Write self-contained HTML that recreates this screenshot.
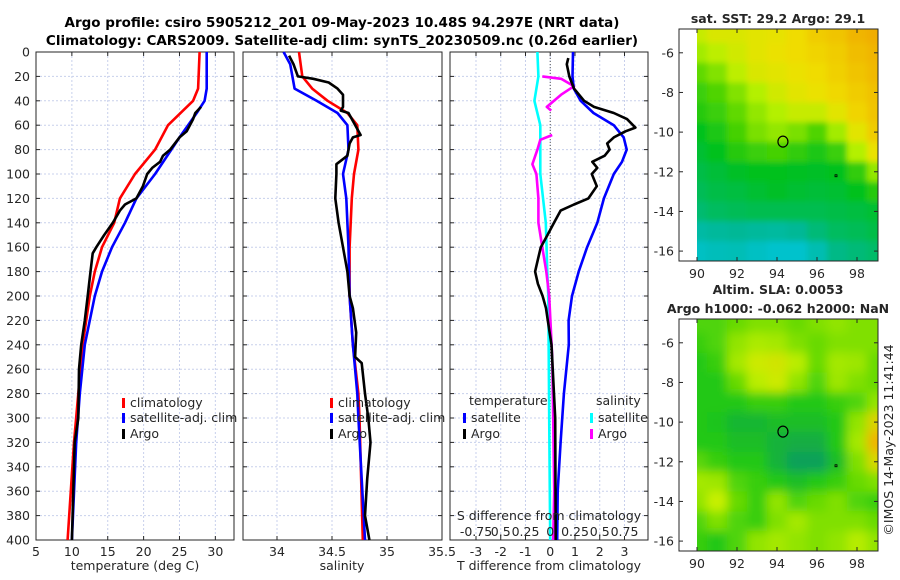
<!DOCTYPE html>
<html><head><meta charset="utf-8"><style>
body{margin:0;background:#fff}
svg{display:block;font-family:"DejaVu Sans","Liberation Sans",sans-serif}
</style></head><body>
<svg id="fig" width="900" height="580" viewBox="0 0 900 580">
<text x="342" y="27" font-size="13.5" font-weight="bold" text-anchor="middle">Argo profile: csiro 5905212_201 09-May-2023 10.48S 94.297E (NRT data)</text>
<text x="342" y="45" font-size="13.5" font-weight="bold" text-anchor="middle">Climatology: CARS2009. Satellite-adj clim: synTS_20230509.nc (0.26d earlier)</text>
<g id="layer"></g>
</svg>
<script>
// ---------- data ----------
const depthTicks=[0,20,40,60,80,100,120,140,160,180,200,220,240,260,280,300,320,340,360,380,400];
const tempTicks=[5,10,15,20,25,30];
const salTicks=[34,34.5,35,35.5];
const salTickLabels=["34","34.5","35","35.5"];
const diffTicks=[-3,-2,-1,0,1,2,3];
const sdiffTickLabels=["-0.75","0.5","0.25","0","0.25","0.5","0.75"];

const tClimD=[0,30,40,60,80,100,120,140,160,180,200,240,280,320,400];
const tClimV=[27.8,27.6,26.9,23.4,21.6,18.8,16.7,15.9,14.2,13.2,12.5,11.5,10.9,10.3,9.4];
const tSatD=[0,30,40,50,70,100,120,140,160,180,200,240,280,320,400];
const tSatV=[28.8,28.8,28.5,27.4,25.0,21.6,19.0,17.4,15.6,14.2,13.2,11.8,11.1,10.6,10.0];
const tArgoD=[45,50,55,65,70,80,85,90,95,100,110,120,125,130,140,150,160,165,180,190,200,220,240,260,300,320,360,400];
const tArgoV=[28.0,27.2,26.9,26.0,25.0,23.7,22.7,22.3,21.2,20.5,19.9,19.0,17.4,16.7,15.7,14.5,13.4,12.9,12.6,12.4,12.2,11.8,11.3,11.0,10.9,10.4,10.2,10.0];

const sClimD=[0,20,30,40,50,60,80,100,120,160,200,240,280,300,400];
const sClimV=[34.2,34.23,34.32,34.46,34.64,34.73,34.74,34.70,34.68,34.66,34.66,34.69,34.74,34.75,34.78];
const sSatD=[0,10,20,30,40,50,60,80,100,120,160,200,240,280,300,400];
const sSatV=[34.06,34.12,34.14,34.16,34.36,34.55,34.64,34.65,34.60,34.63,34.65,34.66,34.69,34.73,34.74,34.8];
const sArgoD=[3,10,20,22,25,30,35,45,48,50,68,70,75,85,92,100,120,140,160,180,200,210,230,250,255,280,300,320,350,380,400];
const sArgoV=[34.11,34.15,34.19,34.33,34.47,34.55,34.60,34.60,34.58,34.65,34.76,34.69,34.66,34.64,34.54,34.54,34.53,34.56,34.60,34.64,34.66,34.69,34.72,34.71,34.77,34.80,34.83,34.85,34.82,34.80,34.84];

const dtSatD=[0,20,30,40,50,60,70,80,90,100,120,140,160,180,200,220,240,280,320,360,400];
const dtSatV=[0.92,0.9,0.95,1.23,1.75,2.57,2.97,3.09,2.9,2.57,2.17,1.9,1.49,1.15,0.88,0.74,0.75,0.55,0.42,0.3,0.28];
const dtArgoD=[5,10,20,30,40,45,50,55,62,65,70,75,80,85,90,95,100,110,120,125,130,140,150,160,170,180,190,200,210,220,240,300,400];
const dtArgoV=[0.73,0.67,0.77,0.96,1.37,1.77,2.57,3.1,3.44,3.04,2.57,2.3,2.4,2.2,1.7,1.9,1.68,1.88,1.54,0.96,0.42,0.15,-0.11,-0.38,-0.5,-0.61,-0.5,-0.31,-0.17,-0.1,0.05,0.2,0.22];
const dsSatD=[0,20,40,60,80,100,140,180,200,300,400];
const dsSatV=[-0.13,-0.12,-0.16,-0.1,-0.1,-0.1,-0.045,-0.03,-0.02,-0.01,0.0];
const dsArgoD=[20,22,28,35,45,48,null,68,72,80,92,100,120,140,160,180,200,250,300,360,400];
const dsArgoV=[-0.08,0.11,0.24,0.11,-0.035,0.01,null,0.02,-0.1,-0.13,-0.18,-0.14,-0.12,-0.12,-0.08,-0.04,-0.01,0.02,0.03,0.04,0.03];

const mapLats=[-5,-6,-7,-8,-9,-10,-11,-12,-13,-14,-15,-16];
const mapLons=[90,91,92,93,94,95,96,97,98,99];
const sstGrid=[
[.66,.7,.7,.72,.73,.76,.8,.82,.86,.88],
[.6,.64,.68,.72,.74,.76,.78,.8,.84,.86],
[.52,.56,.64,.7,.72,.74,.76,.79,.82,.85],
[.46,.5,.56,.62,.68,.72,.74,.77,.8,.83],
[.42,.46,.52,.58,.62,.66,.66,.72,.78,.82],
[.36,.4,.48,.55,.58,.55,.5,.6,.72,.8],
[.33,.36,.42,.46,.48,.44,.4,.46,.62,.74],
[.3,.32,.34,.36,.36,.35,.34,.36,.44,.58],
[.28,.3,.31,.33,.34,.33,.32,.33,.36,.42],
[.25,.27,.28,.29,.29,.29,.29,.3,.31,.33],
[.17,.19,.2,.19,.18,.2,.24,.27,.28,.3],
[.1,.12,.13,.1,.08,.08,.14,.22,.24,.26]];
const slaGrid=[
[.4,.4,.45,.5,.5,.45,.5,.55,.5,.5],
[.35,.4,.55,.62,.6,.5,.45,.5,.5,.5],
[.3,.35,.6,.72,.74,.66,.45,.6,.58,.45],
[.3,.3,.45,.66,.72,.55,.4,.58,.5,.45],
[.3,.3,.3,.35,.35,.3,.3,.35,.4,.55],
[.3,.28,.22,.22,.25,.25,.25,.3,.55,.8],
[.3,.3,.25,.25,.2,.18,.18,.3,.6,.9],
[.42,.35,.3,.3,.2,.12,.12,.25,.5,.78],
[.6,.58,.4,.35,.3,.25,.3,.35,.45,.5],
[.55,.7,.45,.35,.55,.4,.45,.5,.4,.35],
[.4,.5,.4,.35,.5,.6,.5,.5,.5,.45],
[.35,.3,.4,.55,.6,.55,.5,.55,.65,.55]];
const mapTicksLat=[-6,-8,-10,-12,-14,-16];
const mapTicksLon=[90,92,94,96,98];
const argoLat=-10.48, argoLon=94.297;

// ---------- helpers ----------
const NS="http://www.w3.org/2000/svg";
const L=document.getElementById('layer');
function el(t,a,p){const e=document.createElementNS(NS,t);for(const k in a)e.setAttribute(k,a[k]);(p||L).appendChild(e);return e;}
function txt(x,y,s,size,anchor,p){const e=el('text',{x:x,y:y,'font-size':size,'text-anchor':anchor||'middle',fill:'#262626'},p);e.textContent=s;return e;}
const Y0=52,Y1=540;
const yD=d=>Y0+(d/400)*(Y1-Y0);
function lin(d0,d1,r0,r1){return v=>r0+(v-d0)/(d1-d0)*(r1-r0);}

function panel(name,x0,x1,xs,ticks,labels){
  const g=el('g',{});
  
  
  ticks.forEach(t=>{const x=xs(t);el('line',{x1:x,x2:x,y1:Y0,y2:Y1,stroke:'#c8d0ec','stroke-width':1,'stroke-dasharray':'2,2'},g);
    el('line',{x1:x,x2:x,y1:Y1,y2:Y1-4,stroke:'#262626'},g);el('line',{x1:x,x2:x,y1:Y0,y2:Y0+4,stroke:'#262626'},g);});
  depthTicks.forEach(d=>{const y=yD(d);el('line',{x1:x0,x2:x1,y1:y,y2:y,stroke:'#c8d0ec','stroke-width':1,'stroke-dasharray':'2,2'},g);
    el('line',{x1:x0,x2:x0+4,y1:y,y2:y,stroke:'#262626'},g);el('line',{x1:x1,x2:x1-4,y1:y,y2:y,stroke:'#262626'},g);});
  el('rect',{x:x0,y:Y0,width:x1-x0,height:Y1-Y0,fill:'none',stroke:'#262626','stroke-width':1},g);
  ticks.forEach((t,i)=>{const lb=txt(xs(t),556,labels[i],12.5,'middle',g);
    
    });
  return g;
}
function series(name,ds,vs,xs,color,g){
  let d='',pen=false;
  ds.forEach((dd,i)=>{if(dd===null||vs[i]===null){pen=false;return;}
    d+=(pen?'L':'M')+xs(vs[i]).toFixed(1)+','+yD(dd).toFixed(1);pen=true;});
  const p=el('path',{d:d,fill:'none',stroke:color,'stroke-width':2.6,'stroke-linejoin':'round'},g);
  
  
}
function legendRow(g,x,y,color,label,name){
  el('rect',{x:x,y:y-9,width:3,height:10,fill:color},g);
  const t=txt(x+8,y,label,12.5,'start',g);
  
  
}

depthTicks.forEach(d=>{const t=txt(30,yD(d)+4.5,String(d),12.5,'end');
  
  });

const xT=lin(5,32.6,36,234);
const g1=panel('temperature-panel',36,234,xT,tempTicks,tempTicks.map(String));
series('temp-climatology-line',tClimD,tClimV,xT,'#ff0000',g1);
series('temp-satellite-line',tSatD,tSatV,xT,'#0000ff',g1);
series('temp-argo-line',tArgoD,tArgoV,xT,'#000000',g1);
legendRow(g1,122,407,'#ff0000','climatology','legend-climatology');
legendRow(g1,122,422,'#0000ff','satellite-adj. clim','legend-satellite');
legendRow(g1,122,438,'#000000','Argo','legend-argo');
const a1=txt(135,570,'temperature (deg C)',12.5);

const xS=lin(34,35.5,277,442);
const g2=panel('salinity-panel',243,442,xS,salTicks,salTickLabels);
series('sal-climatology-line',sClimD,sClimV,xS,'#ff0000',g2);
series('sal-satellite-line',sSatD,sSatV,xS,'#0000ff',g2);
series('sal-argo-line',sArgoD,sArgoV,xS,'#000000',g2);
legendRow(g2,330,407,'#ff0000','climatology','legend-climatology');
legendRow(g2,330,422,'#0000ff','satellite-adj. clim','legend-satellite');
legendRow(g2,330,438,'#000000','Argo','legend-argo');
const a2=txt(342,570,'salinity',12.5);

const xD=lin(-4.05,3.95,450,648);
const xSD=v=>xD(v*4);
const g3=panel('difference-panel',450,648,xD,diffTicks,diffTicks.map(String));
el('line',{x1:xD(0),x2:xD(0),y1:Y0,y2:Y1,stroke:'#555','stroke-width':1,'stroke-dasharray':'1,2'},g3);
series('sal-diff-satellite-line',dsSatD,dsSatV,xSD,'#00ffff',g3);
series('sal-diff-argo-line',dsArgoD,dsArgoV,xSD,'#ff00ff',g3);
series('temp-diff-satellite-line',dtSatD,dtSatV,xD,'#0000ff',g3);
series('temp-diff-argo-line',dtArgoD,dtArgoV,xD,'#000000',g3);
const lt=txt(469,405,'temperature',12.5,'start',g3);
const ls=txt(596,405,'salinity',12.5,'start',g3);
legendRow(g3,463,422,'#0000ff','satellite','legend-t-satellite');
legendRow(g3,463,438,'#000000','Argo','legend-t-argo');
legendRow(g3,590,422,'#00ffff','satellite','legend-s-satellite');
legendRow(g3,590,438,'#ff00ff','Argo','legend-s-argo');
const st=txt(549,520,'S difference from climatology',12.5,'middle',g3);
diffTicks.forEach((t,i)=>{const l=txt(xD(t),536,sdiffTickLabels[i],12.5,'middle',g3);
  
  });
const a3=txt(549,570,'T difference from climatology',12.5);

function lerpCol(stops,v){
  for(let i=1;i<stops.length;i++){if(v<=stops[i][0]||i===stops.length-1){
    const a=stops[i-1],b=stops[i];let f=(v-a[0])/(b[0]-a[0]);f=Math.max(0,Math.min(1,f));
    const c=[0,1,2].map(k=>Math.round(a[1][k]+(b[1][k]-a[1][k])*f));return 'rgb('+c.join(',')+')';}}
}
const sstStops=[[0,[0,200,240]],[0.2,[0,184,150]],[0.35,[0,192,32]],[0.5,[80,212,0]],[0.62,[180,240,0]],[0.75,[240,224,0]],[0.9,[240,165,0]]];
const slaStops=[[0.12,[16,160,90]],[0.3,[32,200,20]],[0.5,[128,224,0]],[0.7,[200,240,0]],[0.9,[240,180,0]]];
function drawMap(name,top,grid,stops,title1,title2,blur){
  const bx0=679,bx1=878,by0=top,by1=top+232;
  const xl=lin(89.1,99.05,bx0,bx1), yl=lin(-4.8,-16.5,by0,by1);
  const g=el('g',{});
  
  
  const cid='clip'+name;
  const cp=el('clipPath',{id:cid},g);el('rect',{x:xl(90),y:by0,width:bx1-xl(90),height:by1-by0},cp);
  const f=el('filter',{id:'blur'+name,x:'-30%',y:'-30%',width:'160%',height:'160%'},g);el('feGaussianBlur',{stdDeviation:blur},f);
  const cells=el('g',{'clip-path':'url(#'+cid+')'},g);
  const inner=el('g',{filter:'url(#blur'+name+')'},cells);
  const nr=mapLats.length, nc=mapLons.length, pad=20;
  mapLats.forEach((lat,r)=>mapLons.forEach((lon,c)=>{
    let x0=xl(lon-0.5), y0=yl(lat+0.5), x1=xl(lon+0.5)+0.5, y1=yl(lat-0.5)+0.5;
    if(c===0)x0-=pad; if(c===nc-1)x1+=pad; if(r===0)y0-=pad; if(r===nr-1)y1+=pad;
    const cell=el('rect',{x:x0,y:y0,width:x1-x0,height:y1-y0,fill:lerpCol(stops,grid[r][c])},inner);
    
    
  }));
  el('rect',{x:bx0,y:by0,width:bx1-bx0,height:by1-by0,fill:'none',stroke:'#262626'},g);
  mapTicksLat.forEach(t=>{const y=yl(t);el('line',{x1:bx0,x2:bx0+4,y1:y,y2:y,stroke:'#262626'},g);el('line',{x1:bx1,x2:bx1-4,y1:y,y2:y,stroke:'#262626'},g);
    const l=txt(bx0-5,y+4.5,String(t),12.5,'end',g);});
  mapTicksLon.forEach(t=>{const x=xl(t);el('line',{x1:x,x2:x,y1:by1,y2:by1-4,stroke:'#262626'},g);el('line',{x1:x,x2:x,y1:by0,y2:by0+4,stroke:'#262626'},g);
    const l=txt(x,by1+17,String(t),12.5,'middle',g);});
  el('ellipse',{cx:xl(argoLon),cy:yl(argoLat),rx:5,ry:5.5,fill:'none',stroke:'#000','stroke-width':1.2},g);
  el('rect',{x:xl(96.9),y:yl(-12.15),width:2,height:2,fill:'none',stroke:'#000','stroke-width':0.8},g);
  const t1=txt(778,top-(title2?25:6),title1,12.5,'middle',g);t1.setAttribute('font-weight','bold');
  
  if(title2){const t2=txt(778,top-6,title2,12.5,'middle',g);t2.setAttribute('font-weight','bold');
    }
}
drawMap('sst-map',29,sstGrid,sstStops,'sat. SST: 29.2 Argo: 29.1',null,3);
drawMap('sla-map',319,slaGrid,slaStops,'Altim. SLA: 0.0053','Argo h1000: -0.062 h2000: NaN',5);
const cr=txt(0,0,'©IMOS 14-May-2023 11:41:44',12.5,'middle');
cr.setAttribute('transform','translate(893,440) rotate(-90)');


</script>
</body></html>
